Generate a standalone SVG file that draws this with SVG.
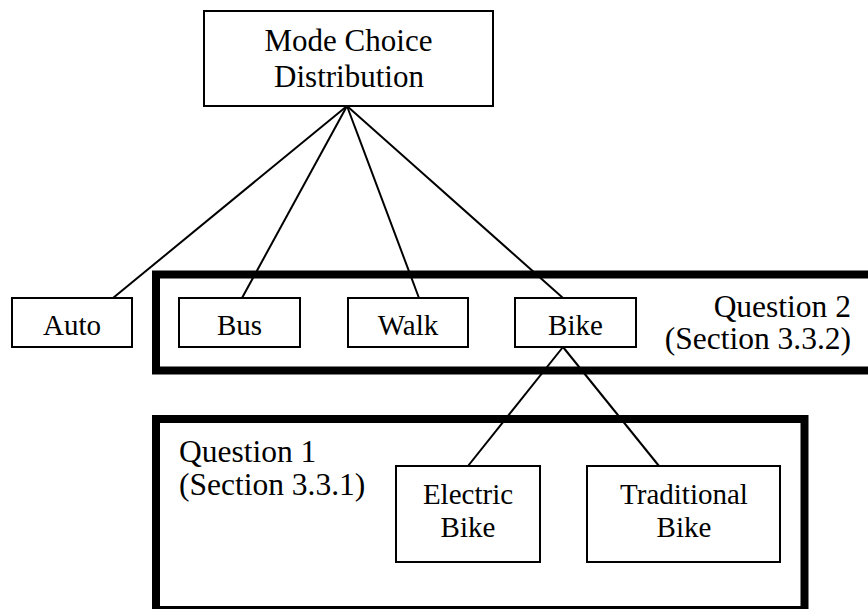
<svg xmlns="http://www.w3.org/2000/svg" width="868" height="609" viewBox="0 0 868 609">
<style>
.n{fill:#fff;stroke:#000;stroke-width:2}
.g{fill:none;stroke:#000;stroke-width:8}
.c{stroke:#000;stroke-width:2;fill:none}
.t{font-family:'Liberation Serif','Times New Roman',serif;font-size:29px;fill:#000}
.big{font-size:31px}
.q{font-size:31.5px}
.m{text-anchor:middle}
.e{text-anchor:end}
</style>
<rect width="868" height="609" fill="#fff"/>
<g id="group-q2"><rect class="g" x="156" y="274.5" width="730" height="96"/></g>
<g id="group-q1"><rect class="g" x="156" y="419" width="648.5" height="191"/></g>
<g id="connectors">
<line class="c" x1="347" y1="106" x2="113" y2="298"/>
<line class="c" x1="347" y1="106" x2="242" y2="298"/>
<line class="c" x1="347" y1="106" x2="419" y2="298"/>
<line class="c" x1="347" y1="106" x2="563" y2="298"/>
<line class="c" x1="563" y1="347" x2="468" y2="466"/>
<line class="c" x1="563" y1="347" x2="659" y2="466"/>
</g>
<g id="mode"><rect class="n" x="204" y="11" width="289" height="95"/>
<text class="t big m" x="348.5" y="51">Mode Choice</text><text class="t big m" x="349" y="87">Distribution</text></g>
<g id="auto"><rect class="n" x="12" y="298" width="120" height="49"/><text class="t m" x="72" y="335">Auto</text></g>
<g id="bus"><rect class="n" x="179" y="298" width="121" height="49"/><text class="t m" x="239.5" y="335">Bus</text></g>
<g id="walk"><rect class="n" x="348" y="298" width="120" height="49"/><text class="t m" x="408" y="335">Walk</text></g>
<g id="bike"><rect class="n" x="515" y="298" width="121" height="49"/><text class="t m" x="575.5" y="335">Bike</text></g>
<g id="q2label"><text class="t q e" x="851" y="317">Question 2</text><text class="t q e" x="851" y="349">(Section 3.3.2)</text></g>
<g id="q1label"><text class="t q" x="179" y="462">Question 1</text><text class="t q" x="179" y="495">(Section 3.3.1)</text></g>
<g id="ebike"><rect class="n" x="396" y="466" width="144" height="96"/>
<text class="t m" x="468" y="504">Electric</text><text class="t m" x="468" y="537">Bike</text></g>
<g id="tbike"><rect class="n" x="587" y="466" width="193" height="96"/>
<text class="t m" x="684" y="504">Traditional</text><text class="t m" x="684" y="537">Bike</text></g>
</svg>
